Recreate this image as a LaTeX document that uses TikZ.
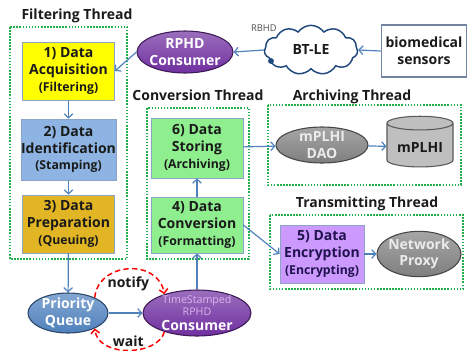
\documentclass[tikz,border=0pt]{standalone}
\usepackage{fontspec}
\setmainfont{Open Sans}
\usetikzlibrary{shapes.geometric,shapes.symbols,arrows.meta}

\definecolor{boxline}{HTML}{8CA5C6}
\definecolor{arrowblue}{HTML}{4F81BD}
\definecolor{threadgreen}{HTML}{1FAF4B}
\definecolor{acqyellow}{HTML}{FFFF00}
\definecolor{idblue}{HTML}{8DB4E2}
\definecolor{prepgold}{HTML}{E2B524}
\definecolor{convgreen}{HTML}{8FEF8F}
\definecolor{encpurple}{HTML}{CC99FF}
\definecolor{rphdpurple}{HTML}{7030A0}
\definecolor{pqblue}{HTML}{4F81BD}
\definecolor{daogray}{HTML}{7F7F7F}
\definecolor{dbgray}{HTML}{BFBFBF}
\definecolor{cloudblue}{HTML}{1F497D}
\definecolor{textdark}{HTML}{1A1A1A}
\definecolor{encnavy}{HTML}{20124D}
\definecolor{tslight}{HTML}{D8B6EE}

\begin{document}
\begin{tikzpicture}[x=0.75pt, y=-0.75pt,
    box/.style={draw=boxline, line width=0.6pt, align=center, inner xsep=0pt, inner ysep=1pt,
        minimum width=69pt, font=\fontsize{10.5}{12.5}\selectfont\bfseries, text=textdark},
    oval/.style={ellipse, draw=#1!55!black, line width=0.8pt,
        top color=#1!70!white, bottom color=#1, inner sep=0pt},
    inside/.style={align=center, font=\fontsize{10.5}{12.5}\selectfont\bfseries, text=white},
    flow/.style={draw=arrowblue, line width=0.9pt,
        -{Straight Barb[length=3pt,width=6.5pt]}},
    sig/.style={draw=red, line width=1.1pt, dash pattern=on 4pt off 2.5pt,
        -{Straight Barb[length=3pt,width=6.5pt]}},
    thread/.style={draw=threadgreen, line width=1.5pt, dash pattern=on 1.2pt off 1.1pt},
    title/.style={font=\fontsize{10.5}{12.5}\selectfont\bfseries, text=textdark}]
    \newcommand{\subline}[1]{{\fontsize{9.2}{11}\selectfont #1}}

    \useasboundingbox (0,0) rectangle (467,350);

    \draw [thread] (10,27) rectangle (127,259);
    \draw [thread] (147,108) rectangle (249,259);
    \draw [thread] (268,105) rectangle (461,185);
    \draw [thread] (270,215) rectangle (463,289);

    \node [title] (tfilter) at (77,16) {Filtering Thread};
    \node [title] (tconv) at (198,95) {Conversion Thread};
    \node [title] (tarch) at (352,97) {Archiving Thread};
    \node [title] (ttrans) at (367,204) {Transmitting Thread};

    \node [box, fill=acqyellow, minimum height=43.5pt] (acq) at (68.5,71)
        {1) Data\\Acquisition\\\subline{(Filtering)}};
    \node [box, fill=idblue, minimum height=45.75pt] (ident) at (68.5,149.5)
        {2) Data\\Identification\\\subline{(Stamping)}};
    \node [box, fill=prepgold, minimum height=43.5pt] (prep) at (68.5,224)
        {3) Data\\Preparation\\\subline{(Queuing)}};

    \node [box, fill=convgreen, minimum height=45pt] (store) at (197,148)
        {6) Data\\Storing\\\subline{(Archiving)}};
    \node [box, fill=convgreen, minimum height=42pt] (conv) at (197,225)
        {4) Data\\Conversion\\\subline{(Formatting)}};
    \node [box, fill=encpurple, minimum width=63pt, minimum height=43.5pt, text=encnavy]
        (enc) at (322,254) {5) Data\\Encryption\\\subline{(Encrypting)}};

    \node [draw=boxline!80!black, line width=0.8pt, fill=white, align=center,
        font=\fontsize{10.5}{12.5}\selectfont\bfseries, text=textdark,
        minimum width=63pt, minimum height=39pt] (sensors) at (424,51) {biomedical\\sensors};
    \node [cloud, cloud puffs=11, cloud puff arc=110, aspect=1.9, draw=cloudblue,
        line width=1.1pt, fill=white, font=\fontsize{10.5}{12.5}\selectfont\bfseries,
        text=textdark, minimum width=70pt, minimum height=37pt, inner sep=0pt]
        (btle) at (311,50) {BT-LE};
    \fill [cloudblue] (271,61) circle (2.2pt);

    \node [oval=rphdpurple, minimum width=72pt, minimum height=31.5pt,
        label={[inside]center:RPHD\\Consumer}] (rphd) at (185,52) {};
    \node [oval=pqblue, minimum width=60pt, minimum height=30pt,
        label={[inside]center:Priority\\Queue}] (pq) at (68,313) {};
    \node [oval=rphdpurple, minimum width=81pt, minimum height=34.5pt,
        label={[inside]center:{\footnotesize\mdseries\color{tslight}TimeStamped}\\[-3.5pt]{\footnotesize\mdseries\color{tslight}RPHD}\\[-1.5pt]Consumer}]
        (tsrphd) at (197,313) {};

    \node [oval=daogray, minimum width=69pt, minimum height=27pt,
        label={[inside, text=white!92!black]center:mPLHI\\DAO}] (dao) at (322,145) {};
    \node [cylinder, shape border rotate=90, aspect=0.25, draw=black!65, line width=0.8pt,
        fill=dbgray, font=\fontsize{10.5}{12.5}\selectfont\bfseries, text=textdark,
        minimum width=49.5pt, minimum height=38pt] (plhi) at (420,147) {mPLHI};

    \node [oval=daogray, minimum width=63pt, minimum height=34pt,
        label={[inside, text=white!92!black]center:Network\\Proxy}] (proxy) at (419,254) {};

    \draw [flow] (sensors.west) -- (btle.east);
    \draw [flow] (btle.west) -- (rphd.east)
        node [pos=0, above=10pt, font=\scriptsize, text=black!70] (rbhd) {RBHD};
    \draw [flow] (rphd.west) -- (acq.east);
    \draw [flow] (acq) -- (ident);
    \draw [flow] (ident) -- (prep);
    \draw [flow] (prep) -- (pq);
    \draw [flow] (pq) -- (tsrphd);
    \draw [flow] (tsrphd) -- (conv);
    \draw [flow] (conv) -- (store);
    \draw [flow] (store) -- (dao);
    \draw [flow] (dao) -- (plhi);
    \draw [flow] (conv.east) -- (enc.west);
    \draw [flow] (enc) -- (proxy);

    \draw [sig] (pq.30) .. controls (98,262) and (158,258) .. (tsrphd.150)
        node [midway, below=2pt, font=\fontsize{10.5}{12.5}\selectfont\bfseries,
        text=textdark] (notify) {notify};
    \draw [sig] (tsrphd.210) .. controls (158,356) and (98,358) .. (pq.-30)
        node [midway, above=-1pt, font=\fontsize{10.5}{12.5}\selectfont\bfseries,
        text=textdark] (wait) {wait};

\end{tikzpicture}
\end{document}
